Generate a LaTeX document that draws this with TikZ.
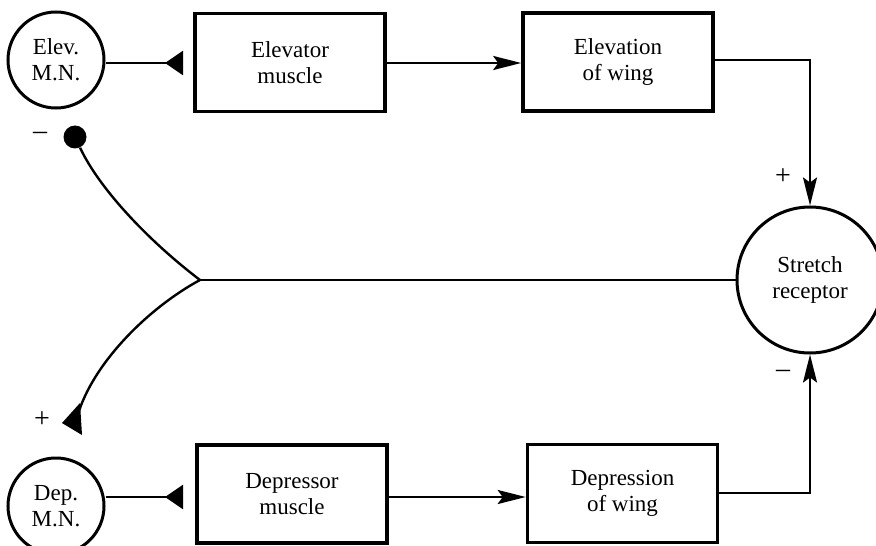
\documentclass[tikz,border=0pt]{standalone}
\usepackage{fontspec}
\setmainfont{Liberation Serif}
\usetikzlibrary{arrows.meta}
\begin{document}
\begin{tikzpicture}[x=0.5pt,y=-0.5pt,
  every node/.style={font=\fontsize{11.5}{13}\selectfont, align=center},
  neuron/.style={draw, circle, line width=1.5pt, inner sep=0pt, minimum size=48pt},
  recep/.style={draw, circle, line width=1.5pt, inner sep=0pt, minimum size=73pt},
  blk/.style={draw, rectangle, line width=1.8pt, inner sep=0pt, minimum width=95pt, minimum height=49pt},
  conn/.style={line width=1.2pt},
  fwd/.style={conn, -{Stealth[length=14pt,width=7pt,inset=2.5pt]}},
  inh/.style={conn, -{Triangle[reversed,length=9pt,width=12pt]}},
  sign/.style={font=\fontsize{14}{16}\selectfont}
]
\useasboundingbox (0,0) rectangle (876,545);

\node[neuron] (elev) at (56,60) {Elev.\\M.N.};
\node[neuron] (dep) at (56,506) {Dep.\\M.N.};
\node[blk] (elevmus) at (290,62.5) {Elevator\\muscle};
\node[blk] (elevwing) at (618,62) {Elevation\\of wing};
\node[blk] (depmus) at (292,494) {Depressor\\muscle};
\node[blk] (depwing) at (622.5,493.5) {Depression\\of wing};
\node[recep] (stretch) at (810,280) {Stretch\\receptor};

\coordinate (branch) at (200,280);
\coordinate (t1) at (183,63);
\coordinate (t2) at (183,497);
\node[circle, fill, inner sep=0pt, minimum size=11.5pt] (dot) at (75,137) {};

% top chain
\draw[inh] (elev.east |- t1) -- (t1);
\draw[fwd] (elevmus.east |- 0,63) -- (elevwing.west |- 0,63);
\draw[fwd] (elevwing.east |- 0,60) -| (stretch.north);

% bottom chain
\draw[inh] (dep.east |- t2) -- (t2);
\draw[fwd] (depmus.east |- 0,497) -- (depwing.west |- 0,497);
\draw[fwd] (depwing.east |- 0,493) -| (stretch.south);

% feedback from receptor
\draw[conn] (stretch.west) -- (branch);
\draw[conn] (dot) .. controls (100,190) and (150,242) .. (branch);
\coordinate (lowend) at (79,411);
\draw[conn] (branch) .. controls (150,307) and (96,360) .. (lowend);
\fill (62,423) -- (80,403) -- (82,435) -- cycle;

% signs
\node[sign] (m1) at (40,136) {--};
\node[sign] (p1) at (42,420) {+};
\node[sign] (p2) at (783,177) {+};
\node[sign] (m2) at (783,374) {--};
\end{tikzpicture}
\end{document}
